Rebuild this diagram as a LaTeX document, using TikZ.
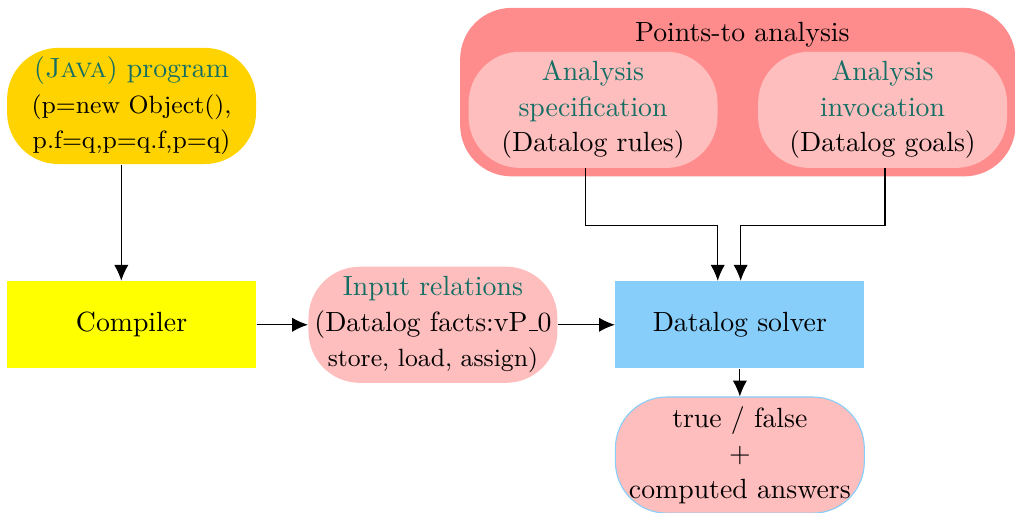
\documentclass[tikz,border=0pt]{standalone}
\usepackage{xcolor}
\usepackage{tikz}
\usetikzlibrary{positioning, arrows.meta, fit, backgrounds}

\definecolor{javagold}{RGB}{255,211,0}
\definecolor{compyellow}{RGB}{255,255,0}
\definecolor{relpink}{RGB}{255,190,190}
\definecolor{groupred}{RGB}{255,140,140}
\definecolor{solverblue}{RGB}{135,206,250}
\definecolor{headteal}{RGB}{20,110,100}

% short underscore as in the old OT1 fonts
\newcommand{\shortus}{\leavevmode\kern.06em\vbox{\hrule width.3em}}

\begin{document}
\begin{tikzpicture}[
        box/.style={rectangle, minimum width=3.15cm, minimum height=1.1cm},
        pill/.style={rectangle, rounded corners=6.5mm, fill=relpink, minimum width=3.15cm, minimum height=1.47cm, align=center, inner sep=1pt},
        arr/.style={-{Latex[length=2mm, width=1.8mm]}}
    ]
        \useasboundingbox (-1.665,-2.373) rectangle (11.18,4.11);

        \node[box, fill=compyellow] (compiler) {Compiler};
        \node[pill, right=0.65cm of compiler] (input) {\textcolor{headteal}{Input relations}\\[0.8pt](Datalog facts:vP\shortus0\\[0.8pt]\small store, load, assign)};
        \node[box, fill=solverblue, right=0.72cm of input] (solver) {Datalog solver};
        \node[pill, fill=javagold, above=1.47cm of compiler] (java) {\textcolor{headteal}{(\textsc{Java}) program}\\[0.8pt]\small(p=new Object(),\\[0.8pt]\small p.f=q,p=q.f,p=q)};
        \node[pill, draw=solverblue, below=0.35cm of solver] (result) {true / false\\[0.8pt]+\\[0.8pt]computed answers};

        % Points-to analysis group
        \node[pill] (spec) at (5.84,2.72) {\textcolor{headteal}{Analysis}\\[0.8pt]\textcolor{headteal}{specification}\\[0.8pt](Datalog rules)};
        \node[pill, right=0.5cm of spec] (invoc) {\textcolor{headteal}{Analysis}\\[0.8pt]\textcolor{headteal}{invocation}\\[0.8pt](Datalog goals)};
        \node (title) at (7.73,3.67) {Points-to analysis};
        \coordinate (grouptop) at (7.73,3.91);
        \begin{scope}[on background layer]
            \node[fill=groupred, rounded corners=6.5mm, inner sep=0.1cm, fit=(spec)(invoc)(grouptop)] (pointsto) {};
        \end{scope}

        % Flow
        \draw[arr] ([xshift=-1.3mm]java.south) -- ([xshift=-1.3mm]compiler.north);
        \draw[arr] (compiler) -- (input);
        \draw[arr] (input) -- (solver);
        \draw[arr] (solver) -- (result);
        \draw[arr] ([xshift=-1mm]spec.south) -- ++(0,-0.72) -| ([xshift=-2.8mm]solver.north);
        \draw[arr] ([xshift=0.3mm]invoc.south) -- ++(0,-0.72) -| ([xshift=0.1mm]solver.north);

    \end{tikzpicture}
\end{document}
